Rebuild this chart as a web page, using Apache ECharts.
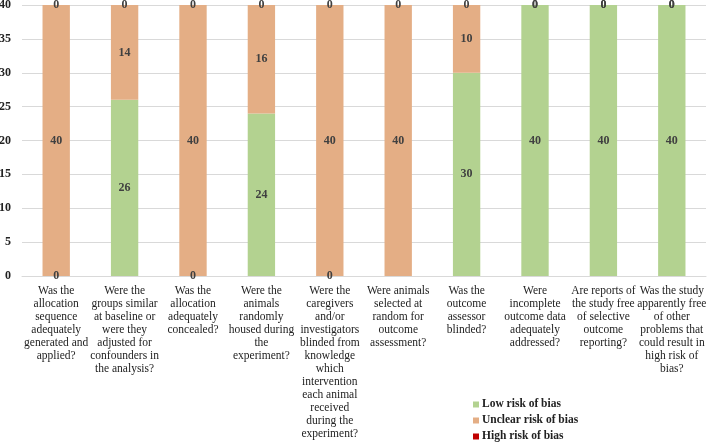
<!DOCTYPE html>
<html>
<head>
<meta charset="utf-8">
<script src="https://cdn.jsdelivr.net/npm/echarts@6/dist/echarts.min.js"></script>
<style>html,body{margin:0;padding:0;background:#fff;}#c{width:708px;height:443px;}</style>
</head>
<body>
<div id="c"></div>
<script>
const categories = [
  "Was the\nallocation\nsequence\nadequately\ngenerated and\napplied?",
  "Were the\ngroups similar\nat baseline or\nwere they\nadjusted for\nconfounders in\nthe analysis?",
  "Was the\nallocation\nadequately\nconcealed?",
  "Were the\nanimals\nrandomly\nhoused during\nthe\nexperiment?",
  "Were the\ncaregivers\nand/or\ninvestigators\nblinded from\nknowledge\nwhich\nintervention\neach animal\nreceived\nduring the\nexperiment?",
  "Were animals\nselected at\nrandom for\noutcome\nassessment?",
  "Was the\noutcome\nassessor\nblinded?",
  "Were\nincomplete\noutcome data\nadequately\naddressed?",
  "Are reports of\nthe study free\nof selective\noutcome\nreporting?",
  "Was the study\napparently free\nof other\nproblems that\ncould result in\nhigh risk of\nbias?"
];
const lowRisk     = [0, 26, 0, 24, 0, null, 30, 40, 40, 40];
const unclearRisk = [40, 14, 40, 16, 40, 40, 10, 0, 0, 0];
const highRisk    = [0, 0, 0, 0, 0, 0, 0, 0, 0, 0];
const seriesNames = ["Low risk of bias", "Unclear risk of bias", "High risk of bias"];

const serif = "'Liberation Serif', 'Times New Roman', serif";
const lbl = {show: true, position: 'inside', color: '#404040', fontFamily: serif, fontWeight: 'bold', fontSize: 12};
function mk(name, data, color) {
  return {name, type: 'bar', stack: 'all', data, barWidth: '40%',
    itemStyle: {color}, label: lbl, emphasis: {disabled: true}};
}
const chart = echarts.init(document.getElementById('c'), null, {renderer: 'canvas'});
chart.setOption({
  animation: false,
  grid: {left: 22, right: 2, top: 5, bottom: 167, containLabel: false, outerBoundsMode: 'none'},
  xAxis: {type: 'category', data: categories,
    axisLine: {lineStyle: {color: '#d9d9d9'}}, axisTick: {show: false},
    axisLabel: {interval: 0, color: '#222', fontFamily: serif, fontSize: 11.5, lineHeight: 13, margin: 8}},
  yAxis: {type: 'value', min: 0, max: 40, interval: 5,
    axisLine: {show: false}, axisTick: {show: false},
    splitLine: {lineStyle: {color: '#d9d9d9'}},
    axisLabel: {color: '#222', fontFamily: serif, fontWeight: 'bold', fontSize: 12, margin: 11}},
  legend: {orient: 'vertical', left: 468, top: 393, height: 60, itemWidth: 6, itemHeight: 6, itemGap: 3,
    icon: 'rect', data: seriesNames,
    textStyle: {fontFamily: serif, fontWeight: 'bold', fontSize: 11.5, lineHeight: 13, color: '#222', padding: [0,0,0,-2]}},
  series: [
    mk(seriesNames[0], lowRisk, '#b3d290'),
    mk(seriesNames[1], unclearRisk, '#e4ae85'),
    mk(seriesNames[2], highRisk, '#c00000')
  ]
});
</script>
</body>
</html>
